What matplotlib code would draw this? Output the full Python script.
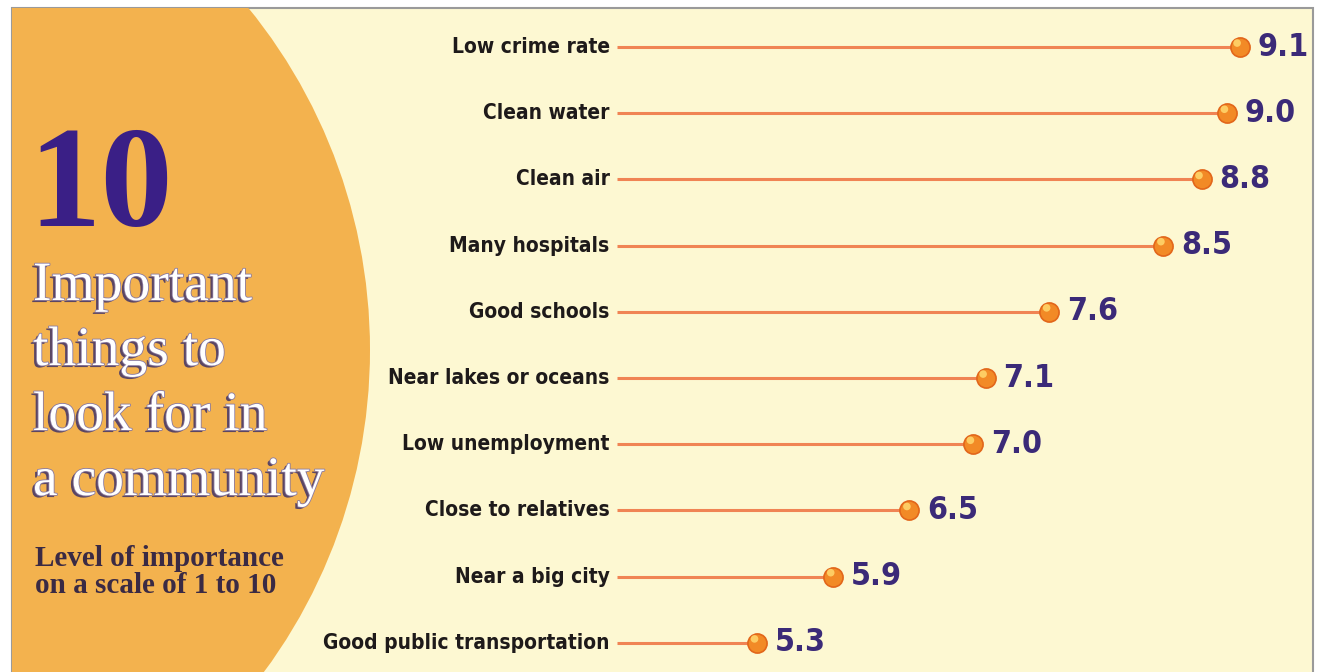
import matplotlib
matplotlib.use("Agg")
import matplotlib.pyplot as plt
import matplotlib.patches as mpatches
import matplotlib.patheffects as pe
from matplotlib import font_manager as fm
from matplotlib.transforms import IdentityTransform

# data, top row first
labels = ["Low crime rate", "Clean water", "Clean air", "Many hospitals",
          "Good schools", "Near lakes or oceans", "Low unemployment",
          "Close to relatives", "Near a big city", "Good public transportation"]
scores = [9.1, 9.0, 8.8, 8.5, 7.6, 7.1, 7.0, 6.5, 5.9, 5.3]
start = 4.2  # where the stems begin

bg = "#fdf8d2"
circle_col = "#f3b24e"
stem_col = "#f08454"
dot_col = "#f28a26"
purple = "#3b2a78"

# look for a narrow bold sans, fall back to DejaVu
cond_file = None
for f in fm.fontManager.ttflist:
    n = f.fname.lower()
    if ("condensed" in n or "narrow" in n) and ("bold" in n) and "oblique" not in n and "italic" not in n:
        cond_file = f.fname
        if "dejavu" in n:
            break
if cond_file:
    cprop = fm.FontProperties(fname=cond_file)
else:
    cprop = fm.FontProperties(family="DejaVu Sans", weight="bold", stretch="condensed")

fig = plt.figure(figsize=(13.17, 6.72), dpi=100)
fig.patch.set_facecolor("white")

# frame (bottom edge runs off the picture)
frame = mpatches.Rectangle((12, -6), 1301, 670, facecolor=bg,
                           edgecolor="#9a9a9a", lw=1.5, zorder=0)
frame.set_transform(IdentityTransform())
fig.patches.append(frame)

# big orange circle on the left, clipped to the frame
circ = mpatches.Circle((-1.72, 3.22), 5.42, transform=fig.dpi_scale_trans,
                       facecolor=circle_col, edgecolor="none", zorder=1)
circ.set_clip_path(frame)
fig.patches.append(circ)

ax = fig.add_axes([0, 0, 1, 1])
ax.set_zorder(5)
ax.set_facecolor("none")
ax.set_xlim(-0.661, 9.709)
ax.set_ylim(9.44, -0.71)
ax.axis("off")

y = list(range(len(labels)))
ax.hlines(y, start, scores, color=stem_col, lw=2.2, zorder=2)
ax.scatter(scores, y, s=190, color=dot_col, edgecolor="#e2661a", lw=1.2, zorder=3)
ax.scatter([s - 0.02 for s in scores], [v - 0.06 for v in y], s=30,
           color="#ffd46a", edgecolor="none", alpha=0.9, zorder=4)

for i, (lab, s) in enumerate(zip(labels, scores)):
    ax.text(start - 0.06, i, lab, ha="right", va="center", fontproperties=cprop,
            fontsize=15, color="#1e1a1a", zorder=5)
    ax.text(s + 0.14, i, f"{s:.1f}", ha="left", va="center", fontproperties=cprop,
            fontsize=23, color=purple, zorder=5)

# heading on the circle
fig.text(28 / 1317, 1 - 226 / 672, "10", fontsize=104, fontweight="bold",
         family="Liberation Serif", color="#3a1f86", va="baseline", zorder=6)
shadow = [pe.withSimplePatchShadow(offset=(-2, -1.5), shadow_rgbFace="#4a3a66", alpha=0.9),
          pe.withStroke(linewidth=1.2, foreground="#8a7aa0")]
head = ["Important", "things to", "look for in", "a community"]
for k, line in enumerate(head):
    fig.text(33 / 1317, 1 - (300 + k * 65) / 672, line, fontsize=40,
             family="Liberation Serif", color="white", va="baseline",
             path_effects=shadow, zorder=6)
fig.text(35 / 1317, 1 - 566 / 672, "Level of importance", fontsize=21,
         fontweight="bold", family="Liberation Serif", color="#3a2a44",
         va="baseline", zorder=6)
fig.text(35 / 1317, 1 - 593 / 672, "on a scale of 1 to 10", fontsize=21,
         fontweight="bold", family="Liberation Serif", color="#3a2a44",
         va="baseline", zorder=6)

fig.savefig("out.png", dpi=100)
